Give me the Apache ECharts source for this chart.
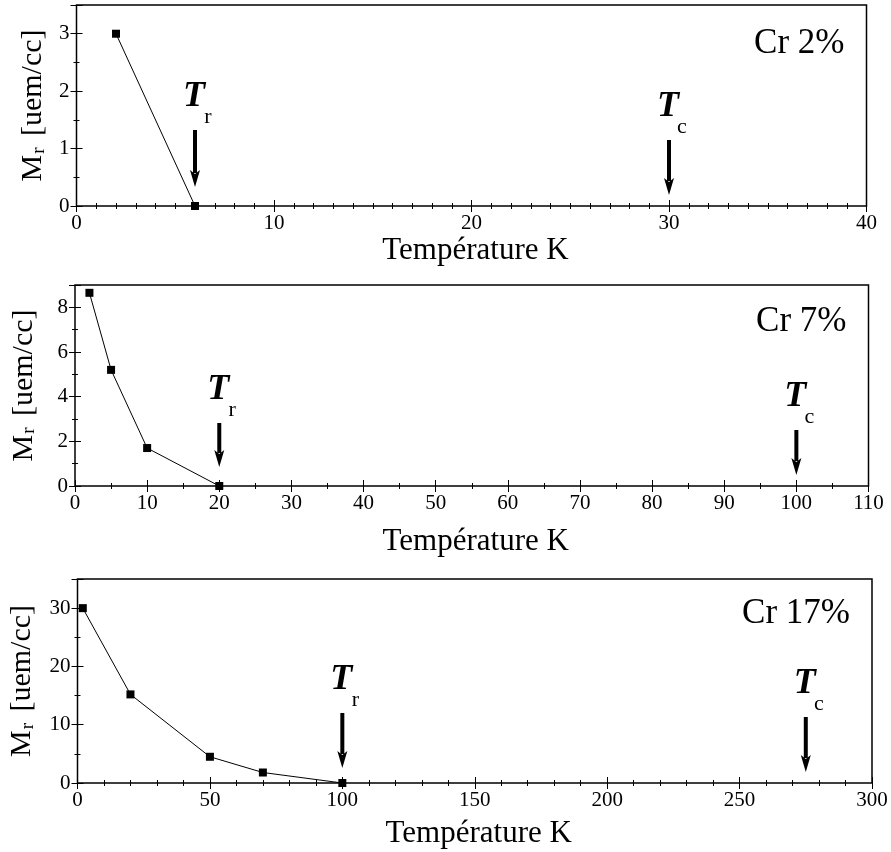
<!DOCTYPE html>
<html>
<head>
<meta charset="utf-8">
<script src="https://cdn.jsdelivr.net/npm/echarts@6/dist/echarts.min.js"></script>
<style>
html,body{margin:0;padding:0;background:#fff;}
#chart{width:891px;height:852px;}
</style>
</head>
<body>
<div id="chart"></div>
<script>
// ---- data ----
const tempCr2 = [2, 6];
const mrCr2 = [3, 0];
const tempCr7 = [2, 5, 10, 20];
const mrCr7 = [8.65, 5.2, 1.7, 0];
const tempCr17 = [2, 20, 50, 70, 100];
const mrCr17 = [30, 15.2, 4.5, 1.8, 0];
const trValues = [6, 20, 100];
const tcValues = [30, 100, 275];
const panelLabels = ['Cr 2%', 'Cr 7%', 'Cr 17%'];
const xAxisTitle = 'Température K';
const yAxisTitle = ['M', 'r', ' [uem/cc]'];
const xMaxs = [40, 110, 300];
const xMajor = [10, 10, 50];
const xMinor = [1, 5, 10];
const yMaxs = [3.5, 9, 35];
const yMajor = [1, 2, 10];
const yMinor = [0.5, 1, 5];

// ---- layout ----
const FONT = '"Liberation Serif","Times New Roman",serif';
const grids = [
  {left: 76.5, top: 5, width: 790, height: 201},
  {left: 75, top: 285, width: 793.5, height: 201},
  {left: 77.5, top: 579, width: 794.5, height: 204}
];
const nameGaps = [29, 40, 35];
const yNameGaps = [26, 36, 40];
const labelY = [44, 322, 614];
const arrowLayout = [
  {trTop: 76, trTip: 19, tcTop: 66, tcTip: 11},
  {trTop: 63, trTip: 19, tcTop: 56, tcTip: 11},
  {trTop: 70, trTip: 15, tcTop: 66, tcTip: 11}
];
const xs = [tempCr2, tempCr7, tempCr17];
const ys = [mrCr2, mrCr7, mrCr17];

const xAxes = [], yAxes = [], series = [], graphics = [];

function tickAxis(p, pos, interval, len, labels, max, extra) {
  const ax = {
    type: 'value', gridIndex: p, position: pos, min: 0, max: max, interval: interval,
    axisLine: {show: false},
    axisTick: {show: true, inside: true, length: len, lineStyle: {color: '#000', width: 1}},
    axisLabel: labels ? {show: true, color: '#000', fontFamily: FONT, fontSize: 21, margin: 7,
      formatter: v => (Math.abs(v / interval - Math.round(v / interval)) < 1e-9 ? String(v) : '')} : {show: false},
    splitLine: {show: false}
  };
  return Object.assign(ax, extra || {});
}

for (let p = 0; p < 3; p++) {
  const g = grids[p];
  xAxes.push(tickAxis(p, 'bottom', xMajor[p], 6, true, xMaxs[p], {
    name: xAxisTitle, nameLocation: 'middle', nameGap: nameGaps[p],
    nameTextStyle: {color: '#000', fontFamily: FONT, fontSize: 31, padding: [0, 0, 0, 8]}
  }));
  xAxes.push(tickAxis(p, 'bottom', xMinor[p], 3, false, xMaxs[p]));
  xAxes.push(tickAxis(p, 'top', xMajor[p], 6, false, xMaxs[p]));
  xAxes.push(tickAxis(p, 'top', xMinor[p], 3, false, xMaxs[p]));

  yAxes.push(tickAxis(p, 'left', yMajor[p], 6, true, yMaxs[p], {
    name: '{m|' + yAxisTitle[0] + '}{s|' + yAxisTitle[1] + '}{m|' + yAxisTitle[2] + '}',
    nameLocation: 'middle', nameGap: yNameGaps[p], nameRotate: 90,
    nameTextStyle: {color: '#000', fontFamily: FONT, fontSize: 30,
      rich: {m: {fontFamily: FONT, fontSize: 30, color: '#000', verticalAlign: 'bottom', lineHeight: 31},
             s: {fontFamily: FONT, fontSize: 19, color: '#000', verticalAlign: 'bottom', lineHeight: 31, padding: [0, 4, 0, 1]}}}
  }));
  yAxes.push(tickAxis(p, 'left', yMinor[p], 3, false, yMaxs[p]));
  yAxes.push(tickAxis(p, 'right', yMajor[p], 6, false, yMaxs[p]));
  yAxes.push(tickAxis(p, 'right', yMinor[p], 3, false, yMaxs[p]));

  series.push({
    type: 'line', xAxisIndex: 4 * p, yAxisIndex: 4 * p,
    data: xs[p].map((x, i) => [x, ys[p][i]]),
    symbol: 'rect', symbolSize: 8,
    itemStyle: {color: '#000'},
    lineStyle: {color: '#000', width: 1},
    animation: false, z: 5
  });

  const lay = arrowLayout[p];
  series.push({
    type: 'custom', xAxisIndex: 4 * p, yAxisIndex: 4 * p,
    data: [[trValues[p], 0, 0], [tcValues[p], 0, 1]],
    animation: false, clip: false, z: 6,
    renderItem: function (params, api) {
      const isTc = api.value(2) === 1;
      const pt = api.coord([api.value(0), 0]);
      const x = pt[0];
      const top = pt[1] - (isTc ? lay.tcTop : lay.trTop);
      const tip = pt[1] - (isTc ? lay.tcTip : lay.trTip);
      const headLen = 17;
      return {
        type: 'group',
        children: [
          {type: 'rect', shape: {x: x - 2, y: top, width: 4, height: tip - headLen + 3 - top}, style: {fill: '#000'}},
          {type: 'polygon', shape: {points: [[x - 5, tip - headLen], [x, tip - headLen + 4], [x + 5, tip - headLen], [x, tip]]}, style: {fill: '#000'}},
          {type: 'text', style: {text: 'T', x: x - 1, y: top - 33, font: 'italic bold 36px ' + FONT, fill: '#000', align: 'center', verticalAlign: 'middle'}},
          {type: 'text', style: {text: isTc ? 'c' : 'r', x: x + 13, y: top - 13, font: '22px ' + FONT, fill: '#000', align: 'center', verticalAlign: 'middle'}}
        ]
      };
    }
  });

  graphics.push({
    type: 'text', right: 891 - (g.left + g.width) + 22, top: labelY[p] - 18,
    style: {text: panelLabels[p], font: '35px ' + FONT, fill: '#000'}
  });
}

const chart = echarts.init(document.getElementById('chart'), null, {renderer: 'canvas'});
chart.setOption({
  backgroundColor: '#fff',
  animation: false,
  grid: grids.map(g => Object.assign({show: true, borderColor: '#000', borderWidth: 1.5, backgroundColor: 'transparent', containLabel: false, outerBoundsMode: 'none'}, g)),
  xAxis: xAxes,
  yAxis: yAxes,
  series: series,
  graphic: graphics
});
</script>
</body>
</html>
